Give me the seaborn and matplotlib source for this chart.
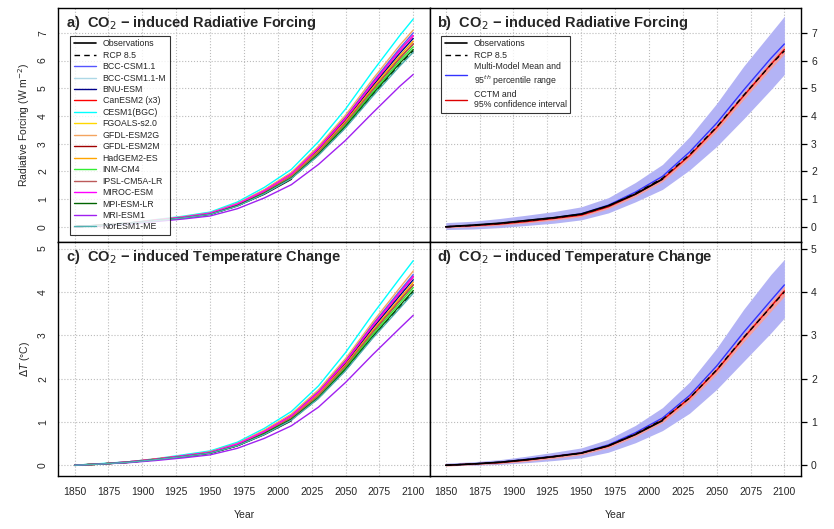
import numpy as np
import pandas as pd
import matplotlib
matplotlib.use("Agg")
import matplotlib.pyplot as plt
import seaborn as sns

# data (every 20 years, plus 2100)
years = [1850, 1870, 1890, 1910, 1930, 1950, 1970, 1990, 2010, 2030, 2050, 2070, 2090, 2100]

rcp_F = [0, 0.05, 0.12, 0.22, 0.32, 0.45, 0.75, 1.2, 1.75, 2.6, 3.6, 4.75, 5.85, 6.35]
rcp_T = [0, 0.03, 0.07, 0.13, 0.2, 0.28, 0.45, 0.72, 1.05, 1.55, 2.2, 2.95, 3.65, 4.0]
obs_F = [0, 0.06, 0.13, 0.23, 0.33, 0.46, 0.76, 1.18, 1.72]
obs_T = [0, 0.03, 0.07, 0.13, 0.2, 0.28, 0.45, 0.71, 1.03]

F_700 = [0, 0.06, 0.13, 0.24, 0.35, 0.5, 0.83, 1.32, 1.93, 2.86, 3.96, 5.23, 6.44, 7.0]
F_660 = [0, 0.05, 0.12, 0.23, 0.33, 0.47, 0.78, 1.25, 1.82, 2.7, 3.74, 4.94, 6.08, 6.6]
F_680 = [0, 0.05, 0.13, 0.24, 0.34, 0.48, 0.8, 1.28, 1.87, 2.78, 3.85, 5.08, 6.26, 6.8]
F_690 = [0, 0.05, 0.13, 0.24, 0.35, 0.49, 0.82, 1.3, 1.9, 2.83, 3.91, 5.16, 6.36, 6.9]
F_750 = [0, 0.06, 0.14, 0.26, 0.38, 0.53, 0.89, 1.42, 2.07, 3.07, 4.25, 5.61, 6.9, 7.5]
F_550 = [0, 0.04, 0.1, 0.19, 0.28, 0.39, 0.65, 1.04, 1.52, 2.25, 3.12, 4.11, 5.07, 5.5]
F_650 = [0, 0.05, 0.12, 0.23, 0.33, 0.46, 0.77, 1.23, 1.79, 2.66, 3.69, 4.86, 5.99, 6.5]
F_710 = [0, 0.06, 0.13, 0.25, 0.36, 0.5, 0.84, 1.34, 1.96, 2.91, 4.03, 5.32, 6.55, 7.1]
F_670 = [0, 0.05, 0.13, 0.23, 0.34, 0.47, 0.79, 1.27, 1.85, 2.74, 3.8, 5.01, 6.17, 6.7]
F_640 = [0, 0.05, 0.12, 0.22, 0.32, 0.45, 0.76, 1.21, 1.76, 2.62, 3.63, 4.79, 5.9, 6.4]
F_630 = [0, 0.05, 0.12, 0.22, 0.32, 0.45, 0.74, 1.19, 1.74, 2.58, 3.57, 4.71, 5.8, 6.3]

T_440 = [0, 0.03, 0.08, 0.14, 0.22, 0.31, 0.5, 0.79, 1.16, 1.71, 2.42, 3.25, 4.02, 4.4]
T_416 = [0, 0.03, 0.07, 0.14, 0.21, 0.29, 0.47, 0.75, 1.09, 1.61, 2.29, 3.07, 3.8, 4.16]
T_428 = [0, 0.03, 0.07, 0.14, 0.21, 0.3, 0.48, 0.77, 1.12, 1.66, 2.35, 3.16, 3.91, 4.28]
T_435 = [0, 0.03, 0.08, 0.14, 0.22, 0.3, 0.49, 0.78, 1.14, 1.68, 2.39, 3.21, 3.97, 4.35]
T_472 = [0, 0.04, 0.08, 0.15, 0.24, 0.33, 0.53, 0.85, 1.24, 1.83, 2.6, 3.48, 4.31, 4.72]
T_346 = [0, 0.03, 0.06, 0.11, 0.17, 0.24, 0.39, 0.62, 0.91, 1.34, 1.91, 2.55, 3.16, 3.46]
T_410 = [0, 0.03, 0.07, 0.13, 0.2, 0.29, 0.46, 0.74, 1.08, 1.59, 2.25, 3.02, 3.74, 4.1]
T_448 = [0, 0.03, 0.08, 0.15, 0.22, 0.31, 0.5, 0.81, 1.18, 1.74, 2.46, 3.3, 4.09, 4.48]
T_422 = [0, 0.03, 0.07, 0.14, 0.21, 0.3, 0.47, 0.76, 1.11, 1.64, 2.32, 3.11, 3.85, 4.22]
T_403 = [0, 0.03, 0.07, 0.13, 0.2, 0.28, 0.45, 0.73, 1.06, 1.56, 2.22, 2.97, 3.68, 4.03]
T_397 = [0, 0.03, 0.07, 0.13, 0.2, 0.28, 0.45, 0.71, 1.04, 1.54, 2.18, 2.93, 3.62, 3.97]

models = ["BCC-CSM1.1", "BCC-CSM1.1-M", "BNU-ESM", "CanESM2 (x3)", "CESM1(BGC)",
          "FGOALS-s2.0", "GFDL-ESM2G", "GFDL-ESM2M", "HadGEM2-ES", "INM-CM4",
          "IPSL-CM5A-LR", "MIROC-ESM", "MPI-ESM-LR", "MRI-ESM1", "NorESM1-ME"]
model_F = [F_700, F_660, F_680, F_690, F_750, F_660, F_710, F_660, F_670, F_650,
           F_660, F_690, F_640, F_550, F_630]
model_T = [T_440, T_416, T_428, T_435, T_472, T_416, T_448, T_416, T_422, T_410,
           T_416, T_435, T_403, T_346, T_397]
colors = ["#5555ff", "#add8e6", "#00008b", "#ff0000", "#00ffff", "#ffd700", "#f4a460",
          "#a00000", "#ffa500", "#33ee33", "#bc5a5a", "#ff00ff", "#006400", "#a020f0", "#4fb0b0"]

# panel b/d: multi-model mean with 95th percentile range, CCTM with 95% interval
mean_F = F_660
band_F_lo = [-0.1, -0.08, -0.03, 0.05, 0.13, 0.25, 0.5, 0.9, 1.35, 2.05, 2.9, 3.9, 4.95, 5.5]
band_F_hi = [0.15, 0.2, 0.3, 0.42, 0.55, 0.72, 1.05, 1.6, 2.25, 3.25, 4.45, 5.8, 7.0, 7.6]
cctm_F = [0, 0.04, 0.1, 0.19, 0.3, 0.42, 0.72, 1.17, 1.72, 2.57, 3.58, 4.73, 5.86, 6.4]
cctm_F_lo = [-0.04, 0.0, 0.06, 0.14, 0.24, 0.36, 0.65, 1.09, 1.63, 2.47, 3.46, 4.6, 5.71, 6.24]
cctm_F_hi = [0.04, 0.08, 0.14, 0.24, 0.36, 0.48, 0.79, 1.25, 1.81, 2.67, 3.7, 4.86, 6.01, 6.56]
mean_T = T_416
band_T_lo = [0, 0.0, 0.02, 0.06, 0.11, 0.17, 0.3, 0.52, 0.8, 1.2, 1.75, 2.4, 3.05, 3.4]
band_T_hi = [0.05, 0.08, 0.13, 0.21, 0.3, 0.4, 0.6, 0.92, 1.33, 1.92, 2.7, 3.6, 4.4, 4.75]
cctm_T = [0, 0.03, 0.06, 0.12, 0.2, 0.28, 0.44, 0.71, 1.04, 1.55, 2.19, 2.94, 3.66, 4.02]
cctm_T_lo = [-0.02, 0.01, 0.04, 0.09, 0.16, 0.24, 0.4, 0.66, 0.98, 1.48, 2.11, 2.85, 3.55, 3.9]
cctm_T_hi = [0.02, 0.05, 0.09, 0.15, 0.24, 0.32, 0.49, 0.76, 1.1, 1.62, 2.27, 3.03, 3.77, 4.14]

sns.set_style("white")
plt.rcParams['font.family'] = ['Liberation Sans', 'DejaVu Sans']

rows = []
for m, f, t in zip(models, model_F, model_T):
    for y, fv, tv in zip(years, f, t):
        rows.append({"model": m, "Year": y, "F": fv, "T": tv})
df = pd.DataFrame(rows)
pal = dict(zip(models, colors))

fig, axes = plt.subplots(2, 2, figsize=(8.34, 5.29), dpi=100)
fig.subplots_adjust(left=0.07, right=0.96, top=0.985, bottom=0.1, hspace=0, wspace=0)

titles = ["a)  CO$_2$ − induced Radiative Forcing", "b)  CO$_2$ − induced Radiative Forcing",
          "c)  CO$_2$ − induced Temperature Change", "d)  CO$_2$ − induced Temperature Change"]

# a) and c): individual models
for ax, var, rcp, obs in [(axes[0, 0], "F", rcp_F, obs_F), (axes[1, 0], "T", rcp_T, obs_T)]:
    ax.plot(years[:len(obs)], obs, color="black", lw=1.2, label="Observations")
    ax.plot(years, rcp, color="black", lw=1.0, ls=(0, (4, 3)), label="RCP 8.5")
    sns.lineplot(data=df, x="Year", y=var, hue="model", palette=pal, ax=ax, lw=1.0, legend=(var == "F"))

leg = axes[0, 0].legend(loc="upper left", fontsize=6.3, frameon=True, fancybox=False,
                        edgecolor="black", handlelength=2.5, labelspacing=0.28,
                        bbox_to_anchor=(0.02, 0.9))
leg.get_frame().set_linewidth(0.8)

# b) and d): ensemble mean and CCTM
for ax, rcp, mean, blo, bhi, c, clo, chi, obs in [
        (axes[0, 1], rcp_F, mean_F, band_F_lo, band_F_hi, cctm_F, cctm_F_lo, cctm_F_hi, obs_F),
        (axes[1, 1], rcp_T, mean_T, band_T_lo, band_T_hi, cctm_T, cctm_T_lo, cctm_T_hi, obs_T)]:
    ax.fill_between(years, blo, bhi, color="#b3b3f5", lw=0)
    ax.fill_between(years, clo, chi, color="#f4a0a0", lw=0)
    sns.lineplot(x=years, y=mean, color="#3333ff", lw=1.0, ax=ax, label="Multi-Model Mean and\n95$^{th}$ percentile range")
    sns.lineplot(x=years, y=c, color="#dd0000", lw=1.0, ax=ax, label="CCTM and\n95% confidence interval")
    ax.plot(years[:len(obs)], obs, color="black", lw=1.2, label="Observations")
    ax.plot(years, rcp, color="black", lw=1.0, ls=(0, (4, 3)), label="RCP 8.5")

h, l = axes[0, 1].get_legend_handles_labels()
order = [2, 3, 0, 1]
leg = axes[0, 1].legend([h[i] for i in order], [l[i] for i in order], loc="upper left",
                        fontsize=6.3, frameon=True, fancybox=False, edgecolor="black",
                        handlelength=2.5, labelspacing=0.28, bbox_to_anchor=(0.02, 0.9))
leg.get_frame().set_linewidth(0.8)
axes[1, 1].get_legend().remove()

for i, ax in enumerate(axes.flat):
    ax.set_xlim(1838, 2112)
    if i < 2:
        ax.set_ylim(-0.55, 7.9)
        ax.set_yticks(range(0, 8))
    else:
        ax.set_ylim(-0.25, 5.15)
        ax.set_yticks(range(0, 6))
    ax.set_xticks(range(1850, 2101, 25))
    ax.set_xticks(range(1850, 2101, 5), minor=True)
    ax.grid(True, ls=":", color="#bbbbbb", lw=0.8)
    for s in ax.spines.values():
        s.set_color("black")
        s.set_linewidth(1.0)
    ax.tick_params(axis="both", which="both", direction="out", color="black", labelsize=7.5,
                   length=4, width=0.9)
    ax.tick_params(axis="x", which="minor", length=2.5)
    for lab in ax.get_yticklabels():
        lab.set_rotation(90)
        lab.set_va("center")
    ax.set_xlabel("")
    ax.set_ylabel("")
    ax.text(0.02, 0.975, titles[i], transform=ax.transAxes, fontsize=10.5, fontweight="bold",
            va="top", ha="left")
    if i % 2 == 1:
        ax.yaxis.tick_right()
    if i < 2:
        ax.tick_params(axis="x", which="both", bottom=False, labelbottom=False)
    else:
        ax.set_xlabel("Year", fontsize=7.5, labelpad=10)

axes[0, 0].set_ylabel("Radiative Forcing (W m$^{-2}$)", fontsize=7.5)
axes[1, 0].set_ylabel(r"$\Delta T$ (°C)", fontsize=7.5)

fig.savefig("out.png", dpi=100)
